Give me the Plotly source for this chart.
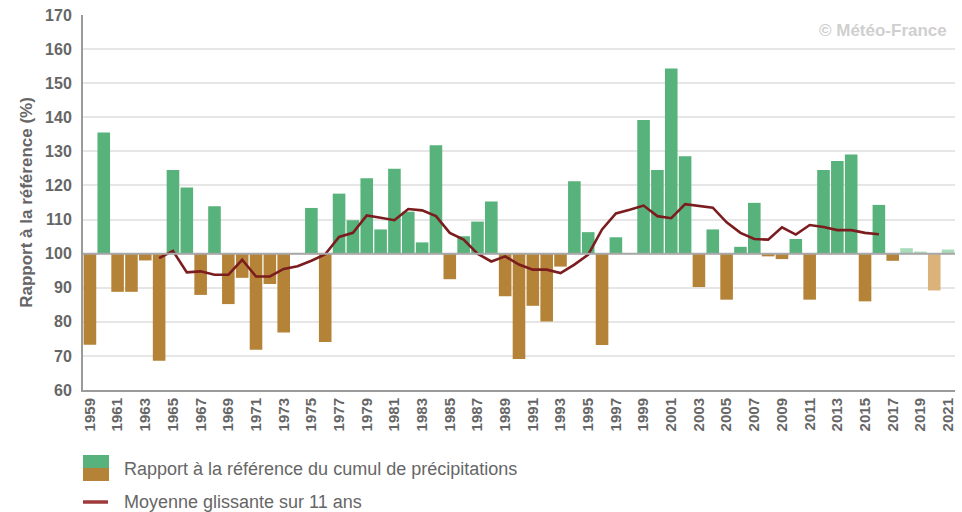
import plotly.graph_objects as go

years = list(range(1959, 2022))
ratio = [
    73.3, 135.5, 88.8, 88.8, 98.0, 68.6, 124.5, 119.4, 87.9, 113.9,
    85.2, 92.9, 71.8, 91.1, 76.9, 100.0, 113.4, 74.1, 117.6, 109.8,
    122.1, 107.1, 124.9, 112.3, 103.3, 131.8, 92.5, 105.1, 109.4, 115.3,
    87.5, 69.1, 84.7, 80.1, 96.2, 121.2, 106.3, 73.2, 104.8, 100.0,
    139.2, 124.5, 154.3, 128.6, 90.2, 107.1, 86.5, 102.0, 114.9, 99.2,
    98.4, 104.3, 86.5, 124.5, 127.2, 129.1, 86.0, 114.3, 97.9, 101.6,
    100.6, 89.2, 101.2,
]
provisional_from = 2018

ma_years = list(range(1964, 2017))
moving_avg = [
    98.7, 100.8, 94.5, 94.8, 93.8, 93.8, 98.2, 93.3, 93.3, 95.5,
    96.3, 97.9, 99.8, 104.9, 106.1, 111.2, 110.5, 109.8, 113.1, 112.7,
    111.0, 106.1, 104.1, 100.0, 97.7, 99.2, 96.8, 95.3, 95.3, 94.3,
    96.8, 99.7, 107.1, 111.8, 112.9, 114.1, 111.0, 110.4, 114.5, 113.9,
    113.5, 109.2, 106.1, 104.3, 104.1, 107.7, 105.6, 108.4, 107.8, 106.9,
    106.9, 106.1, 105.7,
]

y_ticks = list(range(60, 171, 10))
x_ticks = list(range(1959, 2022, 2))

GREEN, BROWN = "#58b27b", "#b58337"
GREEN_LIGHT, BROWN_LIGHT = "#a9dcba", "#dbb279"
LINE = "#7b1c1f"
TEXT = "#666666"
FONT = "Liberation Sans, Arial"

# plot area in pixels: left 83, right 955, top 15, bottom 390
PW, PH = 872, 375


def px_x(x):
    return (x - 83) / PW


def px_y(y):
    return (390 - y) / PH


def bar_color(year, value):
    up = value >= 100
    if year >= provisional_from:
        return GREEN_LIGHT if up else BROWN_LIGHT
    return GREEN if up else BROWN


fig = go.Figure()
fig.add_trace(go.Bar(
    x=years,
    y=[r - 100 for r in ratio],
    base=100,
    marker=dict(color=[bar_color(y, r) for y, r in zip(years, ratio)], line_width=0),
    customdata=ratio,
    hovertemplate="%{x}: %{customdata:.1f} %<extra></extra>",
    showlegend=False,
))
fig.add_trace(go.Scatter(
    x=ma_years, y=moving_avg, mode="lines",
    line=dict(color=LINE, width=2.6),
    showlegend=False,
))

# reference line at 100 %
fig.add_shape(type="line", xref="paper", yref="y", x0=0, x1=1, y0=100, y1=100,
              line=dict(color="#a8a8a8", width=2), layer="above")

# legend drawn below the axis
fig.add_shape(type="rect", xref="paper", yref="paper",
              x0=px_x(83), x1=px_x(109), y0=px_y(455), y1=px_y(468),
              fillcolor=GREEN, line_width=0)
fig.add_shape(type="rect", xref="paper", yref="paper",
              x0=px_x(83), x1=px_x(109), y0=px_y(468), y1=px_y(481),
              fillcolor=BROWN, line_width=0)
fig.add_shape(type="line", xref="paper", yref="paper",
              x0=px_x(83), x1=px_x(108), y0=px_y(502), y1=px_y(502),
              line=dict(color="#9e3a3c", width=3.5))
fig.add_annotation(xref="paper", yref="paper", x=px_x(122), y=px_y(469),
                   text="Rapport à la référence du cumul de précipitations",
                   showarrow=False, xanchor="left", yanchor="middle",
                   font=dict(family=FONT, size=18, color=TEXT))
fig.add_annotation(xref="paper", yref="paper", x=px_x(122), y=px_y(502),
                   text="Moyenne glissante sur 11 ans",
                   showarrow=False, xanchor="left", yanchor="middle",
                   font=dict(family=FONT, size=18, color=TEXT))

fig.add_annotation(xref="paper", yref="paper", x=px_x(949), y=px_y(30),
                   text="<b>© Météo-France</b>", showarrow=False,
                   xanchor="right", yanchor="middle",
                   font=dict(family=FONT, size=17, color="#cfcfcf"))

fig.update_layout(
    width=962, height=512,
    margin=dict(l=83, r=7, t=15, b=122),
    paper_bgcolor="white", plot_bgcolor="white",
    bargap=0.09,
    font=dict(family=FONT, color=TEXT),
    hovermode="closest",
)
fig.update_xaxes(
    range=[1958.5, 2021.5],
    tickmode="array", tickvals=x_ticks, ticktext=[f"<b>{y}</b>" for y in x_ticks],
    tickangle=-90, tickfont=dict(size=15, color=TEXT),
    showgrid=False, showline=True, linecolor="#9a9a9a", linewidth=2,
    ticks="", zeroline=False,
)
fig.update_yaxes(
    range=[60, 170],
    tickmode="array", tickvals=y_ticks, ticktext=[f"<b>{v}</b>" for v in y_ticks],
    tickfont=dict(size=16, color=TEXT), ticklabelstandoff=6,
    showgrid=True, gridcolor="#e6e6e6", gridwidth=1.5,
    showline=True, linecolor="#9a9a9a", linewidth=2,
    ticks="", zeroline=False,
    title=dict(text="<b>Rapport à la référence (%)</b>", font=dict(size=17, color=TEXT), standoff=8),
)

fig.write_html("out.html")
